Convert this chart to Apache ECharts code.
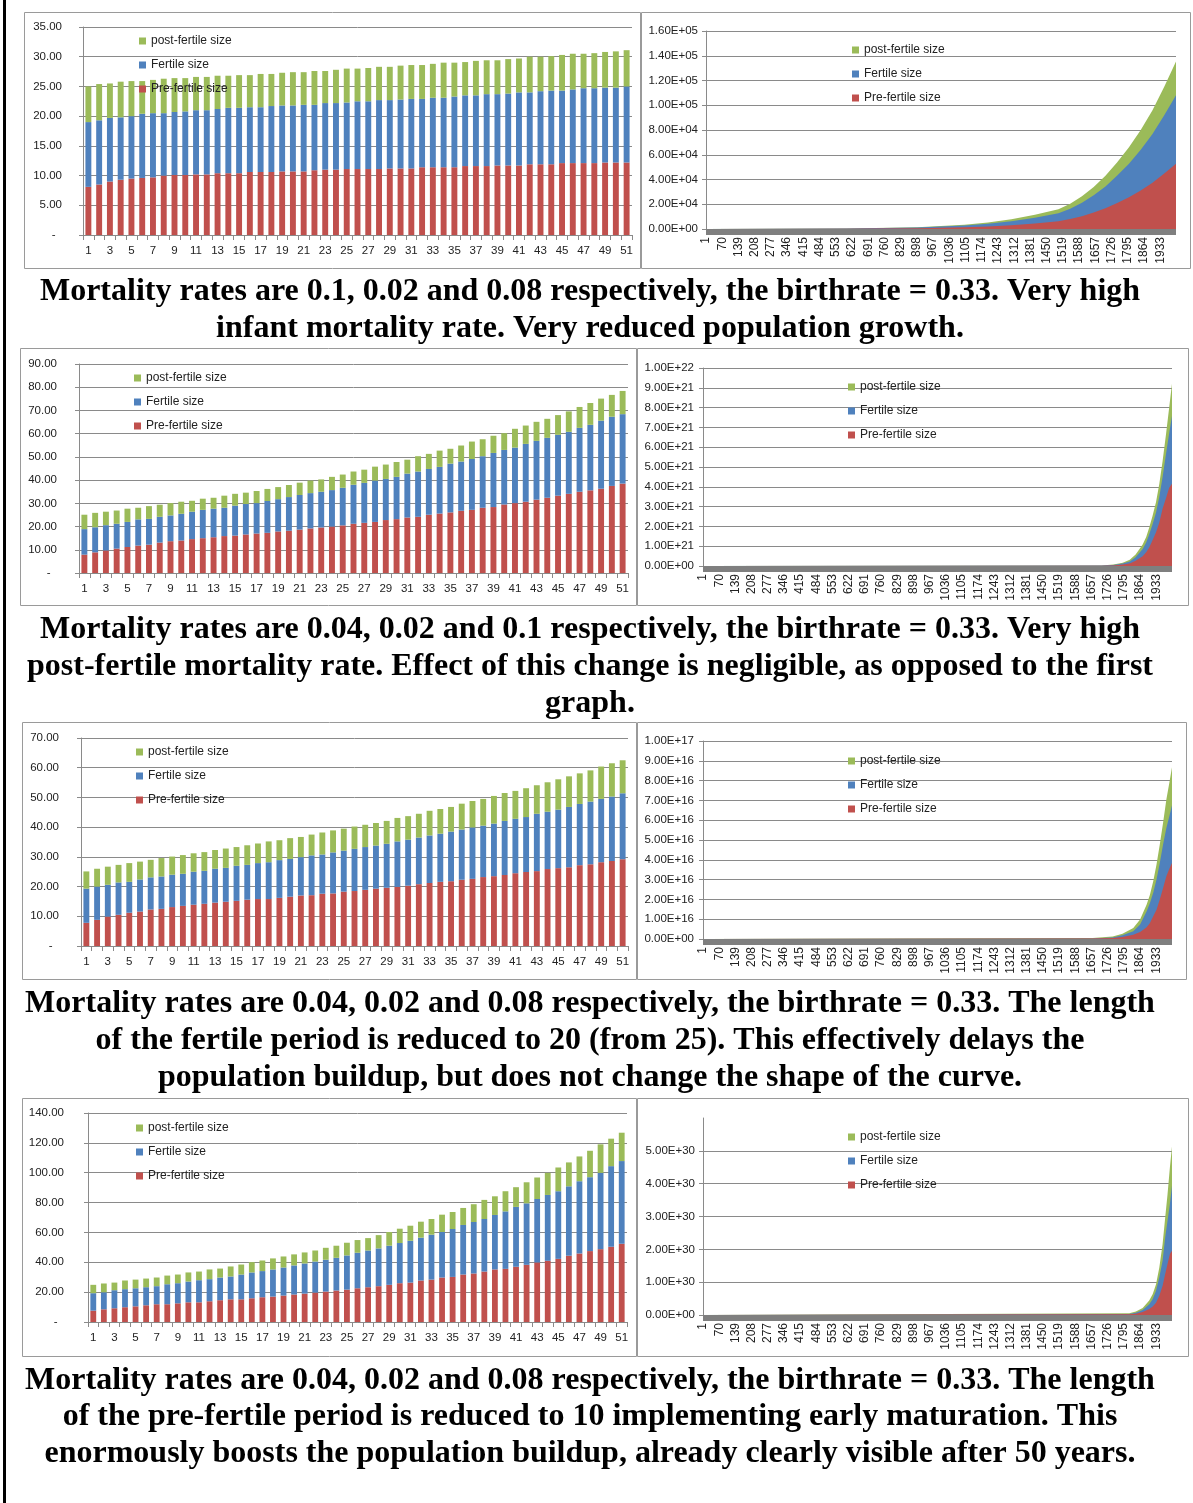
<!DOCTYPE html>
<html>
<head>
<meta charset="utf-8">
<script src="https://cdn.jsdelivr.net/npm/echarts@6/dist/echarts.min.js"></script>
<style>
  html, body { margin: 0; padding: 0; background: #ffffff; }
  #page { width: 1193px; height: 1503px; }
</style>
</head>
<body>
<div id="page"></div>
<script>
// ---- Years of the first 50-year window (bar charts) ----
const years = ['1','2','3','4','5','6','7','8','9','10','11','12','13','14','15','16','17','18','19','20',
  '21','22','23','24','25','26','27','28','29','30','31','32','33','34','35','36','37','38','39','40',
  '41','42','43','44','45','46','47','48','49','50','51'];

// ---- Labelled years of the long run (area charts) ----
const runTicks = [1,70,139,208,277,346,415,484,553,622,691,760,829,898,967,1036,1105,1174,1243,1312,
  1381,1450,1519,1588,1657,1726,1795,1864,1933];

// ---- Scenario 1: high infant mortality ----
const infantPre  = [8.1,8.5,9.0,9.3,9.5,9.6,9.7,10.0,10.1,10.1,10.2,10.2,10.4,10.4,10.4,10.6,10.6,10.6,10.7,10.7,10.7,10.9,11.0,11.0,11.1,11.1,11.1,11.1,11.2,11.2,11.2,11.4,11.4,11.4,11.4,11.6,11.6,11.6,11.7,11.7,11.7,11.9,11.9,11.9,12.1,12.1,12.1,12.1,12.2,12.2,12.2];
const infantFert = [10.9,10.8,10.7,10.5,10.5,10.8,10.8,10.5,10.6,10.7,10.8,10.8,10.8,11.0,11.0,10.9,10.9,11.1,11.1,11.1,11.2,11.0,11.2,11.2,11.2,11.4,11.4,11.6,11.5,11.6,11.7,11.5,11.7,11.7,11.9,11.9,11.9,12.1,12.0,12.1,12.3,12.1,12.3,12.4,12.2,12.4,12.6,12.6,12.6,12.6,12.8];
const infantPost = [6.0,6.1,5.8,6.0,5.9,5.5,5.6,5.8,5.7,5.6,5.6,5.6,5.6,5.4,5.5,5.4,5.6,5.4,5.5,5.6,5.5,5.7,5.4,5.6,5.7,5.5,5.6,5.6,5.6,5.7,5.7,5.7,5.7,5.9,5.7,5.6,5.8,5.7,5.7,5.8,5.7,6.0,5.8,5.8,6.0,6.0,5.8,5.9,6.0,6.1,6.1];
const infantRunX    = [1,600,900,1100,1200,1300,1400,1500,1550,1600,1650,1700,1750,1800,1850,1900,1950,2000];
const infantRunPre  = [8.1,155,585,1360,2030,3040,4490,6240,8000,10300,13300,16800,21000,25700,31200,37400,44900,52800];
const infantRunFert = [10.9,165,615,1440,2130,3200,4700,6560,8400,10900,13900,17600,22200,27100,32800,39400,47100,55300];
const infantRunPost = [6.0,80,300,700,1040,1560,2310,3200,4100,5300,6800,8600,10800,13200,16000,19200,23000,27200];

// ---- Scenario 2: high post-fertile mortality ----
const elderPre  = [7.9,8.9,9.7,10.5,11.2,11.8,12.2,13.1,13.7,14.0,14.6,15.0,15.4,15.9,16.1,16.6,17.0,17.3,17.9,18.2,18.7,19.2,19.6,20.0,20.5,21.2,21.6,22.0,22.8,23.2,23.9,24.2,25.1,25.6,26.1,26.8,27.2,28.1,28.4,29.5,30.1,30.7,31.6,32.4,33.3,34.1,35.0,35.6,36.3,37.5,38.5];
const elderFert = [11.0,10.8,10.9,10.7,10.8,11.3,11.1,11.1,11.1,11.5,11.8,12.2,12.3,12.2,12.9,13.1,13.1,13.7,13.9,14.5,14.9,15.2,15.4,15.7,16.2,16.8,17.2,17.8,17.7,18.2,18.9,19.5,19.7,20.1,21.0,21.2,21.9,22.2,23.3,23.5,23.9,24.9,25.3,25.8,26.2,26.7,27.5,28.2,29.3,29.8,29.9];
const elderPost = [6.2,6.2,5.8,5.7,5.7,5.0,5.5,5.2,5.3,5.2,4.7,4.8,4.7,5.2,5.1,4.9,5.2,5.2,5.2,5.2,5.3,5.4,5.3,5.7,5.7,5.7,5.7,6.0,6.2,6.4,6.0,6.6,6.5,7.0,6.4,6.9,7.5,7.3,7.4,7.2,8.1,7.9,8.2,8.2,8.5,8.8,9.0,9.4,9.5,9.4,10.0];
const elderRunX    = [1,1700,1750,1790,1820,1845,1875,1890,1903,1917,1932,1946,1960,1975,1988,2000];
const elderRunPre  = [8,0.012e21,0.03e21,0.07e21,0.13e21,0.27e21,0.49e21,0.69e21,0.94e21,1.3e21,1.7e21,2.2e21,2.9e21,3.45e21,3.95e21,4.16e21];
const elderRunFert = [11,0.008e21,0.02e21,0.05e21,0.10e21,0.17e21,0.37e21,0.50e21,0.66e21,0.8e21,1.0e21,1.3e21,1.6e21,2.25e21,2.75e21,3.41e21];
const elderRunPost = [6,0.01e21,0.02e21,0.05e21,0.09e21,0.14e21,0.22e21,0.28e21,0.35e21,0.43e21,0.53e21,0.65e21,0.8e21,1.0e21,1.3e21,1.64e21];

// ---- Scenario 3: fertile period shortened to 20 ----
const shortPre  = [7.8,8.8,9.9,10.5,11.2,11.6,12.3,12.5,13.1,13.5,13.9,14.2,14.6,14.9,15.2,15.6,15.8,15.8,16.2,16.6,17.0,17.1,17.6,17.7,18.3,18.5,18.9,19.3,19.6,19.9,20.3,20.8,21.2,21.6,21.8,22.3,22.6,23.2,23.5,23.9,24.5,24.9,25.2,25.9,26.2,26.5,27.2,27.5,28.2,28.6,29.2];
const shortFert = [11.5,11.2,10.7,10.9,10.4,10.8,10.8,10.9,10.9,10.8,11.1,11.1,11.4,11.4,11.8,11.7,12.1,12.4,12.7,12.7,12.9,13.4,13.2,13.8,13.8,14.2,14.4,14.5,14.8,15.3,15.5,15.7,16.0,16.2,16.7,16.9,17.3,17.3,17.7,18.2,18.3,18.5,19.3,19.3,19.7,20.3,20.6,21.1,21.3,21.7,22.2];
const shortPost = [5.8,6.0,6.1,5.9,6.3,6.0,5.9,6.2,6.1,6.3,6.2,6.3,6.3,6.5,6.3,6.6,6.6,7.0,6.7,7.0,6.8,7.0,7.4,7.4,7.4,7.5,7.5,7.6,7.7,7.9,7.9,8.0,8.3,8.3,8.3,8.7,8.9,9.0,9.3,9.4,9.4,9.7,9.6,9.9,10.2,10.3,10.3,10.5,10.9,11.2,11.1];
const shortRunX    = [1,1662,1747,1789,1835,1864,1892,1906,1920,1934,1948,1962,1976,1990,2000];
const shortRunPre  = [8,0.02e16,0.05e16,0.10e16,0.22e16,0.35e16,0.59e16,0.81e16,1.15e16,1.48e16,1.99e16,2.58e16,3.17e16,3.59e16,3.84e16];
const shortRunFert = [11,0.01e16,0.03e16,0.09e16,0.17e16,0.38e16,0.81e16,1.01e16,1.18e16,1.52e16,1.85e16,2.19e16,2.43e16,2.67e16,2.92e16];
const shortRunPost = [6,0.02e16,0.05e16,0.08e16,0.17e16,0.25e16,0.34e16,0.42e16,0.59e16,0.76e16,0.93e16,1.10e16,1.45e16,1.72e16,1.92e16];

// ---- Scenario 4: pre-fertile period shortened to 10 ----
const earlyPre  = [7.6,8.5,9.2,9.9,10.5,11.2,11.9,11.9,12.5,13.2,13.2,13.9,14.6,15.2,15.2,15.9,16.6,17.0,17.7,18.4,19.0,19.7,20.4,21.1,21.7,22.6,23.3,24.0,24.9,26.0,26.4,27.8,28.4,29.8,30.2,31.8,32.5,33.8,35.2,35.6,37.0,38.3,39.9,41.0,42.3,44.4,45.9,47.5,48.8,50.4,52.4];
const earlyFert = [11.7,11.4,12.1,12.1,12.1,12.1,12.1,13.4,13.5,13.9,14.8,14.8,15.2,15.3,16.6,17.3,17.5,18.2,18.8,19.5,20.2,20.8,21.3,21.9,22.9,23.8,24.6,25.3,26.2,26.9,28.0,28.7,30.1,30.5,32.1,33.2,34.5,35.2,36.5,38.5,40.1,41.2,42.5,44.1,45.3,46.5,48.4,49.5,51.1,54.0,55.4];
const earlyPost = [5.6,5.9,5.1,5.8,5.8,5.8,5.8,5.8,5.8,6.1,5.8,6.5,6.0,6.7,6.7,6.9,7.1,7.4,7.4,7.4,7.4,7.4,8.0,8.1,8.5,8.5,8.3,8.9,9.2,9.6,10.1,10.7,10.5,11.6,11.4,11.4,11.9,12.8,12.5,13.5,13.2,14.1,14.4,14.8,15.9,16.0,16.6,17.7,19.1,18.4,19.0];
const earlyRunX    = [1,1818,1846,1875,1903,1918,1932,1946,1960,1971,1981,1991,2000];
const earlyRunPre  = [8,0.02e30,0.04e30,0.09e30,0.18e30,0.26e30,0.37e30,0.59e30,0.89e30,1.25e30,1.55e30,1.86e30,1.96e30];
const earlyRunFert = [11,0.01e30,0.03e30,0.06e30,0.15e30,0.23e30,0.37e30,0.56e30,0.76e30,1.11e30,1.32e30,1.52e30,1.98e30];
const earlyRunPost = [6,0.02e30,0.04e30,0.06e30,0.11e30,0.15e30,0.20e30,0.30e30,0.51e30,0.61e30,0.81e30,1.11e30,1.19e30];

// ---- Captions under each pair of charts ----
const captions = [
  ['Mortality rates are 0.1, 0.02 and 0.08 respectively, the birthrate = 0.33. Very high',
   'infant mortality rate. Very reduced population growth.'],
  ['Mortality rates are 0.04, 0.02 and 0.1 respectively, the birthrate = 0.33. Very high',
   'post-fertile mortality rate. Effect of this change is negligible, as opposed to the first',
   'graph.'],
  ['Mortality rates are 0.04, 0.02 and 0.08 respectively, the birthrate = 0.33. The length',
   'of the fertile period is reduced to 20 (from 25). This effectively delays the',
   'population buildup, but does not change the shape of the curve.'],
  ['Mortality rates are 0.04, 0.02 and 0.08 respectively, the birthrate = 0.33. The length',
   'of the pre-fertile period is reduced to 10 implementing early maturation. This',
   'enormously boosts the population buildup, already clearly visible after 50 years.']
];

const NAME_PRE = 'Pre-fertile size', NAME_FERT = 'Fertile size', NAME_POST = 'post-fertile size';
const COLOR = { pre: '#C0504D', fert: '#4F81BD', post: '#9BBB59' };
const AXIS = '#8a8a8a';
const SANS = 'Liberation Sans';
const INK = '#222222';

// layout of every panel: plot box [left, top, width, height], label gap, legend corner, frame
const rows = [
  { bar: { pre: infantPre, fert: infantFert, post: infantPost, max: 35, step: 5,
           box: [83, 27, 549, 208], gap: 21, legend: [139, 35], frame: [24, 12, 616, 256] },
    run: { x: infantRunX, pre: infantRunPre, fert: infantRunFert, post: infantRunPost, max: 1.6e5, step: 2e4,
           box: [706, 31, 470, 198], gap: 8, legend: [852, 44], frame: [641, 12, 549, 256] },
    text: [292, 329] },
  { bar: { pre: elderPre, fert: elderFert, post: elderPost, max: 90, step: 10,
           box: [79, 364, 549, 209], gap: 22, legend: [134, 372], frame: [20, 348, 616, 257] },
    run: { x: elderRunX, pre: elderRunPre, fert: elderRunFert, post: elderRunPost, max: 1e22, step: 1e21,
           box: [703, 368, 469, 198], gap: 9, legend: [848, 381], frame: [637, 348, 551, 257] },
    text: [630, 667, 704] },
  { bar: { pre: shortPre, fert: shortFert, post: shortPost, max: 70, step: 10,
           box: [81, 738, 547, 208], gap: 22, legend: [136, 746], frame: [22, 722, 614, 257] },
    run: { x: shortRunX, pre: shortRunPre, fert: shortRunFert, post: shortRunPost, max: 1e17, step: 1e16,
           box: [703, 741, 469, 198], gap: 9, legend: [848, 755], frame: [637, 722, 549, 257] },
    text: [1004, 1041, 1078] },
  { bar: { pre: earlyPre, fert: earlyFert, post: earlyPost, max: 140, step: 20,
           box: [88, 1113, 539, 209], gap: 24, legend: [136, 1122], frame: [22, 1098, 614, 258] },
    run: { x: earlyRunX, pre: earlyRunPre, fert: earlyRunFert, post: earlyRunPost, max: 6e30, step: 1e30,
           box: [703, 1118, 469, 197], gap: 8, legend: [848, 1131], frame: [637, 1098, 551, 258], hideTop: true },
    text: [1381, 1417, 1454] }
];

// spreadsheet-style scientific notation: 1.60E+05
function sci(v) {
  if (v === 0) return '0.00E+00';
  const parts = v.toExponential(2).split('e');
  const e = parseInt(parts[1], 10);
  return parts[0] + 'E' + (e < 0 ? '-' : '+') + String(Math.abs(e)).padStart(2, '0');
}

const grid = [], xAxis = [], yAxis = [], series = [], legend = [], graphic = [];

function addLegend(pos) {
  legend.push({
    orient: 'vertical', left: pos[0], top: pos[1], padding: 0, icon: 'rect',
    itemWidth: 7, itemHeight: 7, itemGap: 12, selectedMode: false,
    data: [NAME_POST, NAME_FERT, NAME_PRE],
    textStyle: { fontFamily: SANS, fontSize: 12, color: INK }
  });
}

function addFrame(f) {
  graphic.push({ type: 'rect', z: 0, silent: true,
    shape: { x: f[0] + 0.5, y: f[1] + 0.5, width: f[2], height: f[3] },
    style: { fill: 'none', stroke: '#9a9a9a', lineWidth: 1 } });
}

function addBarPanel(p) {
  const gi = grid.length;
  grid.push({ left: p.box[0], top: p.box[1], width: p.box[2], height: p.box[3] });
  xAxis.push({
    type: 'category', gridIndex: gi, data: years, boundaryGap: true,
    axisLine: { show: true, lineStyle: { color: AXIS } },
    axisTick: { show: true, interval: 0, length: 5, lineStyle: { color: AXIS } },
    axisLabel: { interval: 1, margin: 10, fontFamily: SANS, fontSize: 11.5, color: INK },
    splitLine: { show: false }
  });
  yAxis.push({
    type: 'value', gridIndex: gi, min: 0, max: p.max, interval: p.step,
    axisLine: { show: true, lineStyle: { color: AXIS } },
    axisTick: { show: true, length: 4, lineStyle: { color: AXIS } },
    splitLine: { show: true, lineStyle: { color: AXIS } },
    axisLabel: { margin: p.gap, fontFamily: SANS, fontSize: 11.5, color: INK,
      formatter: v => (v === 0 ? '-\u2007' : v.toFixed(2)) }
  });
  [[p.pre, NAME_PRE, COLOR.pre], [p.fert, NAME_FERT, COLOR.fert], [p.post, NAME_POST, COLOR.post]]
    .forEach(s => series.push({
      type: 'bar', name: s[1], xAxisIndex: gi, yAxisIndex: gi, stack: 'bars' + gi,
      data: s[0], barWidth: '55%', itemStyle: { color: s[2] }
    }));
  addLegend(p.legend);
  addFrame(p.frame);
}

function addRunPanel(p) {
  const gi = grid.length;
  grid.push({ left: p.box[0], top: p.box[1], width: p.box[2], height: p.box[3] });
  xAxis.push({
    type: 'value', gridIndex: gi, min: 1, max: 2000, position: 'bottom', offset: 3,
    axisLine: { show: true, onZero: false, lineStyle: { color: '#7f7f7f', width: 6, cap: 'butt' } },
    axisTick: { show: false },
    splitLine: { show: false },
    axisLabel: { customValues: runTicks, rotate: 90, margin: 5,
      fontFamily: SANS, fontSize: 12, color: INK, formatter: v => String(v) }
  });
  yAxis.push({
    type: 'value', gridIndex: gi, min: 0, max: p.max, interval: p.step,
    axisLine: { show: true, lineStyle: { color: AXIS } },
    axisTick: { show: true, length: 4, lineStyle: { color: AXIS } },
    splitLine: { show: true, showMaxLine: !p.hideTop, lineStyle: { color: AXIS } },
    axisLabel: { margin: p.gap, fontFamily: SANS, fontSize: 11.5, color: INK,
      showMaxLabel: !p.hideTop, formatter: v => sci(v) }
  });
  // layered areas: each band is drawn from the axis up to its running total
  const fertTop = p.pre.map((v, i) => v + p.fert[i]);
  const postTop = fertTop.map((v, i) => v + p.post[i]);
  [[postTop, NAME_POST, COLOR.post], [fertTop, NAME_FERT, COLOR.fert], [p.pre, NAME_PRE, COLOR.pre]]
    .forEach((s, k) => series.push({
      type: 'line', name: s[1], xAxisIndex: gi, yAxisIndex: gi, z: 2 + k,
      data: p.x.map((x, i) => [x, s[0][i]]),
      showSymbol: false, symbol: 'none', smooth: false,
      lineStyle: { width: 0, color: s[2] }, itemStyle: { color: s[2] },
      areaStyle: { color: s[2], opacity: 1, origin: 'start' }
    }));
  addLegend(p.legend);
  addFrame(p.frame);
}

rows.forEach((r, ri) => {
  addBarPanel(r.bar);
  addRunPanel(r.run);
  captions[ri].forEach((line, li) => graphic.push({
    type: 'text', x: 590, y: r.text[li], silent: true,
    style: { text: line, textAlign: 'center', textVerticalAlign: 'middle',
      fontFamily: 'Liberation Serif', fontWeight: 'bold', fontSize: 32, fill: '#000' }
  }));
});

// page rule along the left edge
graphic.push({ type: 'rect', silent: true, shape: { x: 3, y: 0, width: 3, height: 1503 },
  style: { fill: '#000' } });

const chart = echarts.init(document.getElementById('page'), null, { renderer: 'canvas' });
chart.setOption({
  animation: false,
  backgroundColor: '#ffffff',
  grid, xAxis, yAxis, series, legend, graphic,
  tooltip: { show: false }
});
</script>
</body>
</html>
